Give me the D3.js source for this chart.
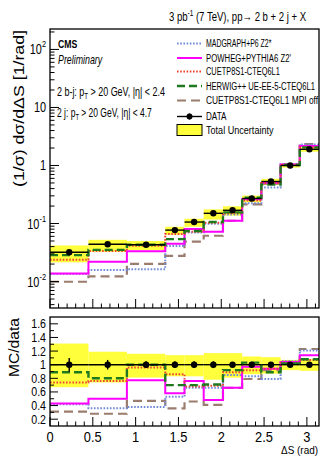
<!DOCTYPE html>
<html><head><meta charset="utf-8">
<script src="https://cdn.jsdelivr.net/npm/d3@7"></script>
<style>
body{margin:0;background:#fff}
text{font-family:"Liberation Sans",Arial,Helvetica,sans-serif;fill:#000}
</style>
</head><body>
<svg id="c" width="321" height="456"></svg>
<script>
// ΔS bin edges (rad)
const binEdges = [0, 0.449, 0.898, 1.346, 1.571, 1.795, 2.020, 2.244, 2.468, 2.693, 2.917, 3.1416];
// normalised cross section per bin (1/rad)
const dataVals = [0.032, 0.044, 0.043, 0.077, 0.106, 0.150, 0.169, 0.27, 0.53, 1.0, 1.9];
// relative statistical error of data
const dataStatErr = [0.10, 0.07, 0.05, 0.05, 0.05, 0.05, 0.04, 0.03, 0.03, 0.03, 0.03];
// total uncertainty band, relative to data
const uncHi = [1.31, 1.19, 1.16, 1.14, 1.14, 1.17, 1.17, 1.12, 1.11, 1.07, 1.08];
const uncLo = [0.67, 0.74, 0.81, 0.83, 0.83, 0.78, 0.81, 0.86, 0.87, 0.92, 0.91];
// MC / data ratios
const ratioMadgraph = [0.42, 0.36, 0.38, 0.53, 0.66, 0.66, 0.85, 0.83, 0.79, 1.05, 1.21];
const ratioPowheg   = [0.43, 0.50, 0.77, 0.58, 0.76, 0.48, 0.66, 0.97, 0.94, 1.04, 1.14];
const ratioCuetp8s1 = [0.74, 0.76, 0.96, 0.86, 0.68, 0.69, 0.89, 0.92, 0.94, 1.03, 1.07];
const ratioHerwig   = [0.89, 0.80, 1.00, 0.70, 0.70, 0.71, 0.92, 1.03, 0.89, 1.02, 1.08];
const ratioMpiOff   = [0.31, 0.28, 0.47, 0.36, 0.46, 0.41, 0.66, 0.79, 0.92, 1.04, 1.23];
// axis ticks
const xTickLabels = [0, 0.5, 1, 1.5, 2, 2.5, 3];
const decadeTicks = [0.01, 0.1, 1, 10, 100];
const decadeLabels = [["10","-2"], ["10","-1"], ["1",""], ["10",""], ["10","2"]];
const ratioTickLabels = [0.2, 0.4, 0.6, 0.8, 1, 1.2, 1.4, 1.6];

const models = [
  {name: "MADGRAPH+P6 Z2*", ratio: ratioMadgraph, color: "#6f8ad8", dash: "1.6,1.6", w: 2},
  {name: "POWHEG+PYTHIA6 Z2'", ratio: ratioPowheg, color: "#ff00ff", dash: null, w: 2},
  {name: "CUETP8S1-CTEQ6L1", ratio: ratioCuetp8s1, color: "#ee4433", dash: "1.6,1.6", w: 2},
  {name: "HERWIG++ UE-EE-5-CTEQ6L1", ratio: ratioHerwig, color: "#1f7a1f", dash: "8,4", w: 2.4},
  {name: "CUETP8S1-CTEQ6L1 MPI off", ratio: ratioMpiOff, color: "#9a7d6e", dash: "9,5", w: 2.2}
];

const svg = d3.select("#c");
const L = 50, R = 319;
const topT = 29, topB = 308, botT = 317, botB = 426;

const x = d3.scaleLinear().domain([0, 3.1416]).range([L, R]);
const yTop = d3.scaleLog().domain([0.0035, 225]).range([topB, topT]);
const yRat = d3.scaleLinear().domain([0.1, 1.7]).range([botB, botT]);

// horizontally condense a text around its anchor point
function condense(sel, s) {
  sel.each(function () {
    const t = d3.select(this);
    const bb = this.getBBox();
    const a = t.attr("text-anchor");
    const ax = a === "end" ? bb.x + bb.width : a === "middle" ? bb.x + bb.width / 2 : bb.x;
    t.attr("transform", `translate(${ax},0) scale(${s},1) translate(${-ax},0)`);
  });
}
function fitWidth(sel, w) {
  const bb = sel.node().getBBox();
  condense(sel, w / bb.width);
}

const defs = svg.append("defs");
defs.append("clipPath").attr("id", "clipTop").append("rect")
  .attr("x", L).attr("y", topT).attr("width", R - L).attr("height", topB - topT);
defs.append("clipPath").attr("id", "clipBot").append("rect")
  .attr("x", L).attr("y", botT).attr("width", R - L).attr("height", botB - botT);

const bins = dataVals.map((v, i) => ({i, x0: binEdges[i], x1: binEdges[i + 1], xc: (binEdges[i] + binEdges[i + 1]) / 2, v}));

function stepPath(vals, yS) {
  const pts = [];
  vals.forEach((v, i) => { pts.push([x(binEdges[i]), yS(v)]); pts.push([x(binEdges[i + 1]), yS(v)]); });
  return d3.line()(pts);
}

function drawPanel(g, yS, scaleFn) {
  // total uncertainty band
  g.selectAll("rect.band").data(bins).join("rect").attr("class", "band")
    .attr("x", d => x(d.x0)).attr("width", d => x(d.x1) - x(d.x0))
    .attr("y", d => yS(scaleFn(d, uncHi[d.i])))
    .attr("height", d => yS(scaleFn(d, uncLo[d.i])) - yS(scaleFn(d, uncHi[d.i])))
    .attr("fill", "#ffff3c");
  // MC predictions
  [models[4], models[0], models[1], models[2], models[3]].forEach(m => {
    g.append("path").attr("d", stepPath(bins.map(d => scaleFn(d, m.ratio[d.i])), yS))
      .attr("fill", "none").attr("stroke", m.color).attr("stroke-width", m.w)
      .attr("stroke-dasharray", m.dash);
  });
  // data: horizontal bin bars, vertical error bars, markers
  g.selectAll("line.hbar").data(bins).join("line").attr("class", "hbar")
    .attr("x1", d => x(d.x0)).attr("x2", d => x(d.x1))
    .attr("y1", d => yS(scaleFn(d, 1))).attr("y2", d => yS(scaleFn(d, 1)))
    .attr("stroke", "#000").attr("stroke-width", 1.4);
  g.selectAll("line.ebar").data(bins).join("line").attr("class", "ebar")
    .attr("x1", d => x(d.xc)).attr("x2", d => x(d.xc))
    .attr("y1", d => yS(scaleFn(d, 1 + dataStatErr[d.i]))).attr("y2", d => yS(scaleFn(d, 1 - dataStatErr[d.i])))
    .attr("stroke", "#000").attr("stroke-width", 1.4);
  g.selectAll("circle").data(bins).join("circle")
    .attr("cx", d => x(d.xc)).attr("cy", d => yS(scaleFn(d, 1))).attr("r", 3.2).attr("fill", "#000");
}

const gTop = svg.append("g").attr("clip-path", "url(#clipTop)");
drawPanel(gTop, yTop, (d, r) => d.v * r);
const gBot = svg.append("g").attr("clip-path", "url(#clipBot)");
drawPanel(gBot, yRat, (d, r) => r);

// frames
[[topT, topB], [botT, botB]].forEach(([t, b]) => {
  svg.append("rect").attr("x", L).attr("y", t).attr("width", R - L).attr("height", b - t)
    .attr("fill", "none").attr("stroke", "#000").attr("stroke-width", 1.3);
});

// x ticks on both panels (pointing up)
const xMinor = d3.range(0, 32).map(k => k / 10);
[topB, botB].forEach(yb => {
  svg.append("g").selectAll("line").data(xMinor).join("line")
    .attr("x1", d => x(d)).attr("x2", d => x(d))
    .attr("y1", yb).attr("y2", d => yb - (Math.abs(d * 2 - Math.round(d * 2)) < 1e-6 ? 9 : 4.5))
    .attr("stroke", "#000").attr("stroke-width", 1);
});
svg.append("g").selectAll("text").data(xTickLabels).join("text")
  .attr("x", d => x(d)).attr("y", 442).attr("text-anchor", "middle")
  .attr("font-size", 14).text(d => d)
  .call(condense, 0.92);

// upper log y axis
const logMinor = [];
[0.001, 0.01, 0.1, 1, 10, 100].forEach(dec => { for (let k = 2; k <= 9; k++) { const v = dec * k; if (v > 0.0035 && v < 225) logMinor.push(v); } });
svg.append("g").selectAll("line").data(logMinor).join("line")
  .attr("x1", L).attr("x2", L + 4.5).attr("y1", d => yTop(d)).attr("y2", d => yTop(d))
  .attr("stroke", "#000");
svg.append("g").selectAll("line").data(decadeTicks).join("line")
  .attr("x1", L).attr("x2", L + 9).attr("y1", d => yTop(d)).attr("y2", d => yTop(d))
  .attr("stroke", "#000");
const decG = svg.append("g").selectAll("text").data(decadeTicks).join("text")
  .attr("x", 46).attr("y", d => yTop(d) + 5).attr("text-anchor", "end").attr("font-size", 14);
decG.each(function (d, i) {
  const t = d3.select(this);
  const [base, sup] = decadeLabels[i];
  t.append("tspan").text(base);
  if (sup) t.append("tspan").attr("dy", -7).attr("font-size", 9.5).text(sup);
});
decG.call(condense, 0.78);

// ratio y axis
const ratMinor = d3.range(2, 17).map(k => k / 10);
svg.append("g").selectAll("line").data(ratMinor).join("line")
  .attr("x1", L).attr("x2", d => L + (Math.round(d * 10) % 2 === 0 ? 8 : 4))
  .attr("y1", d => yRat(d)).attr("y2", d => yRat(d)).attr("stroke", "#000");
svg.append("g").selectAll("text").data(ratioTickLabels).join("text")
  .attr("x", 46).attr("y", d => yRat(d) + 4.5).attr("text-anchor", "end")
  .attr("font-size", 12.5).text(d => d)
  .call(condense, 0.85);

// axis titles
svg.append("text").attr("transform", "translate(23.5,108.5) rotate(-90)").attr("text-anchor", "middle")
  .attr("font-size", 14.5).attr("textLength", 157).attr("lengthAdjust", "spacingAndGlyphs")
  .text("(1/σ) dσ/dΔS [1/rad]");
svg.append("text").attr("transform", "translate(19,347.5) rotate(-90)").attr("text-anchor", "middle")
  .attr("font-size", 14.5).attr("textLength", 59).attr("lengthAdjust", "spacingAndGlyphs")
  .text("MC/data");
svg.append("text").attr("x", 318).attr("y", 454).attr("text-anchor", "end").attr("font-size", 11)
  .text("ΔS (rad)").call(fitWidth, 37);

// header
const hdr = svg.append("text").attr("x", 306).attr("y", 21).attr("text-anchor", "end").attr("font-size", 12.5);
hdr.append("tspan").text("3 pb");
hdr.append("tspan").attr("dy", -5).attr("font-size", 8.5).text("-1");
hdr.append("tspan").attr("dy", 5).text(" (7 TeV),  pp→ 2 b + 2 j + X");
hdr.call(fitWidth, 138);

// labels inside the frame
svg.append("text").attr("x", 58).attr("y", 48.5).attr("font-size", 11.5).attr("font-weight", "bold")
  .text("CMS").call(fitWidth, 19.5);
svg.append("text").attr("x", 58).attr("y", 64).attr("font-size", 12).attr("font-style", "italic")
  .text("Preliminary").call(fitWidth, 45);
function cutLabel(y, pre, post, w) {
  const t = svg.append("text").attr("x", 57).attr("y", y).attr("font-size", 12.5);
  t.append("tspan").text(pre + " p");
  t.append("tspan").attr("dy", 3).attr("font-size", 8.5).text("T");
  t.append("tspan").attr("dy", -3).text(post);
  t.call(fitWidth, w);
}
cutLabel(96, "2 b-j:", " > 20 GeV, |η| < 2.4", 108);
cutLabel(117, "2 j:", " > 20 GeV, |η| < 4.7", 95);

// legend
const legRows = [43.5, 58, 71.5, 86, 100.5];
const legWidths = [66, 85, 74, 109, 113];
const leg = svg.append("g");
models.forEach((m, i) => {
  leg.append("line").attr("x1", 177).attr("x2", 202).attr("y1", legRows[i]).attr("y2", legRows[i])
    .attr("stroke", m.color).attr("stroke-width", m.w).attr("stroke-dasharray", m.dash);
  leg.append("text").attr("x", 206).attr("y", legRows[i] + 4).attr("font-size", 11).text(m.name)
    .call(fitWidth, legWidths[i]);
});
leg.append("line").attr("x1", 177).attr("x2", 202).attr("y1", 116.5).attr("y2", 116.5).attr("stroke", "#000").attr("stroke-width", 1.4);
leg.append("line").attr("x1", 189.5).attr("x2", 189.5).attr("y1", 113.5).attr("y2", 119.5).attr("stroke", "#000").attr("stroke-width", 1.4);
leg.append("circle").attr("cx", 189.5).attr("cy", 116.5).attr("r", 3).attr("fill", "#000");
leg.append("text").attr("x", 206).attr("y", 120.5).attr("font-size", 11).text("DATA").call(fitWidth, 21);
leg.append("rect").attr("x", 177).attr("y", 124.5).attr("width", 25).attr("height", 11)
  .attr("fill", "#ffff3c").attr("stroke", "#000").attr("stroke-width", 1);
leg.append("text").attr("x", 206).attr("y", 134).attr("font-size", 11).text("Total Uncertainty").call(fitWidth, 68);
</script>
</body></html>
